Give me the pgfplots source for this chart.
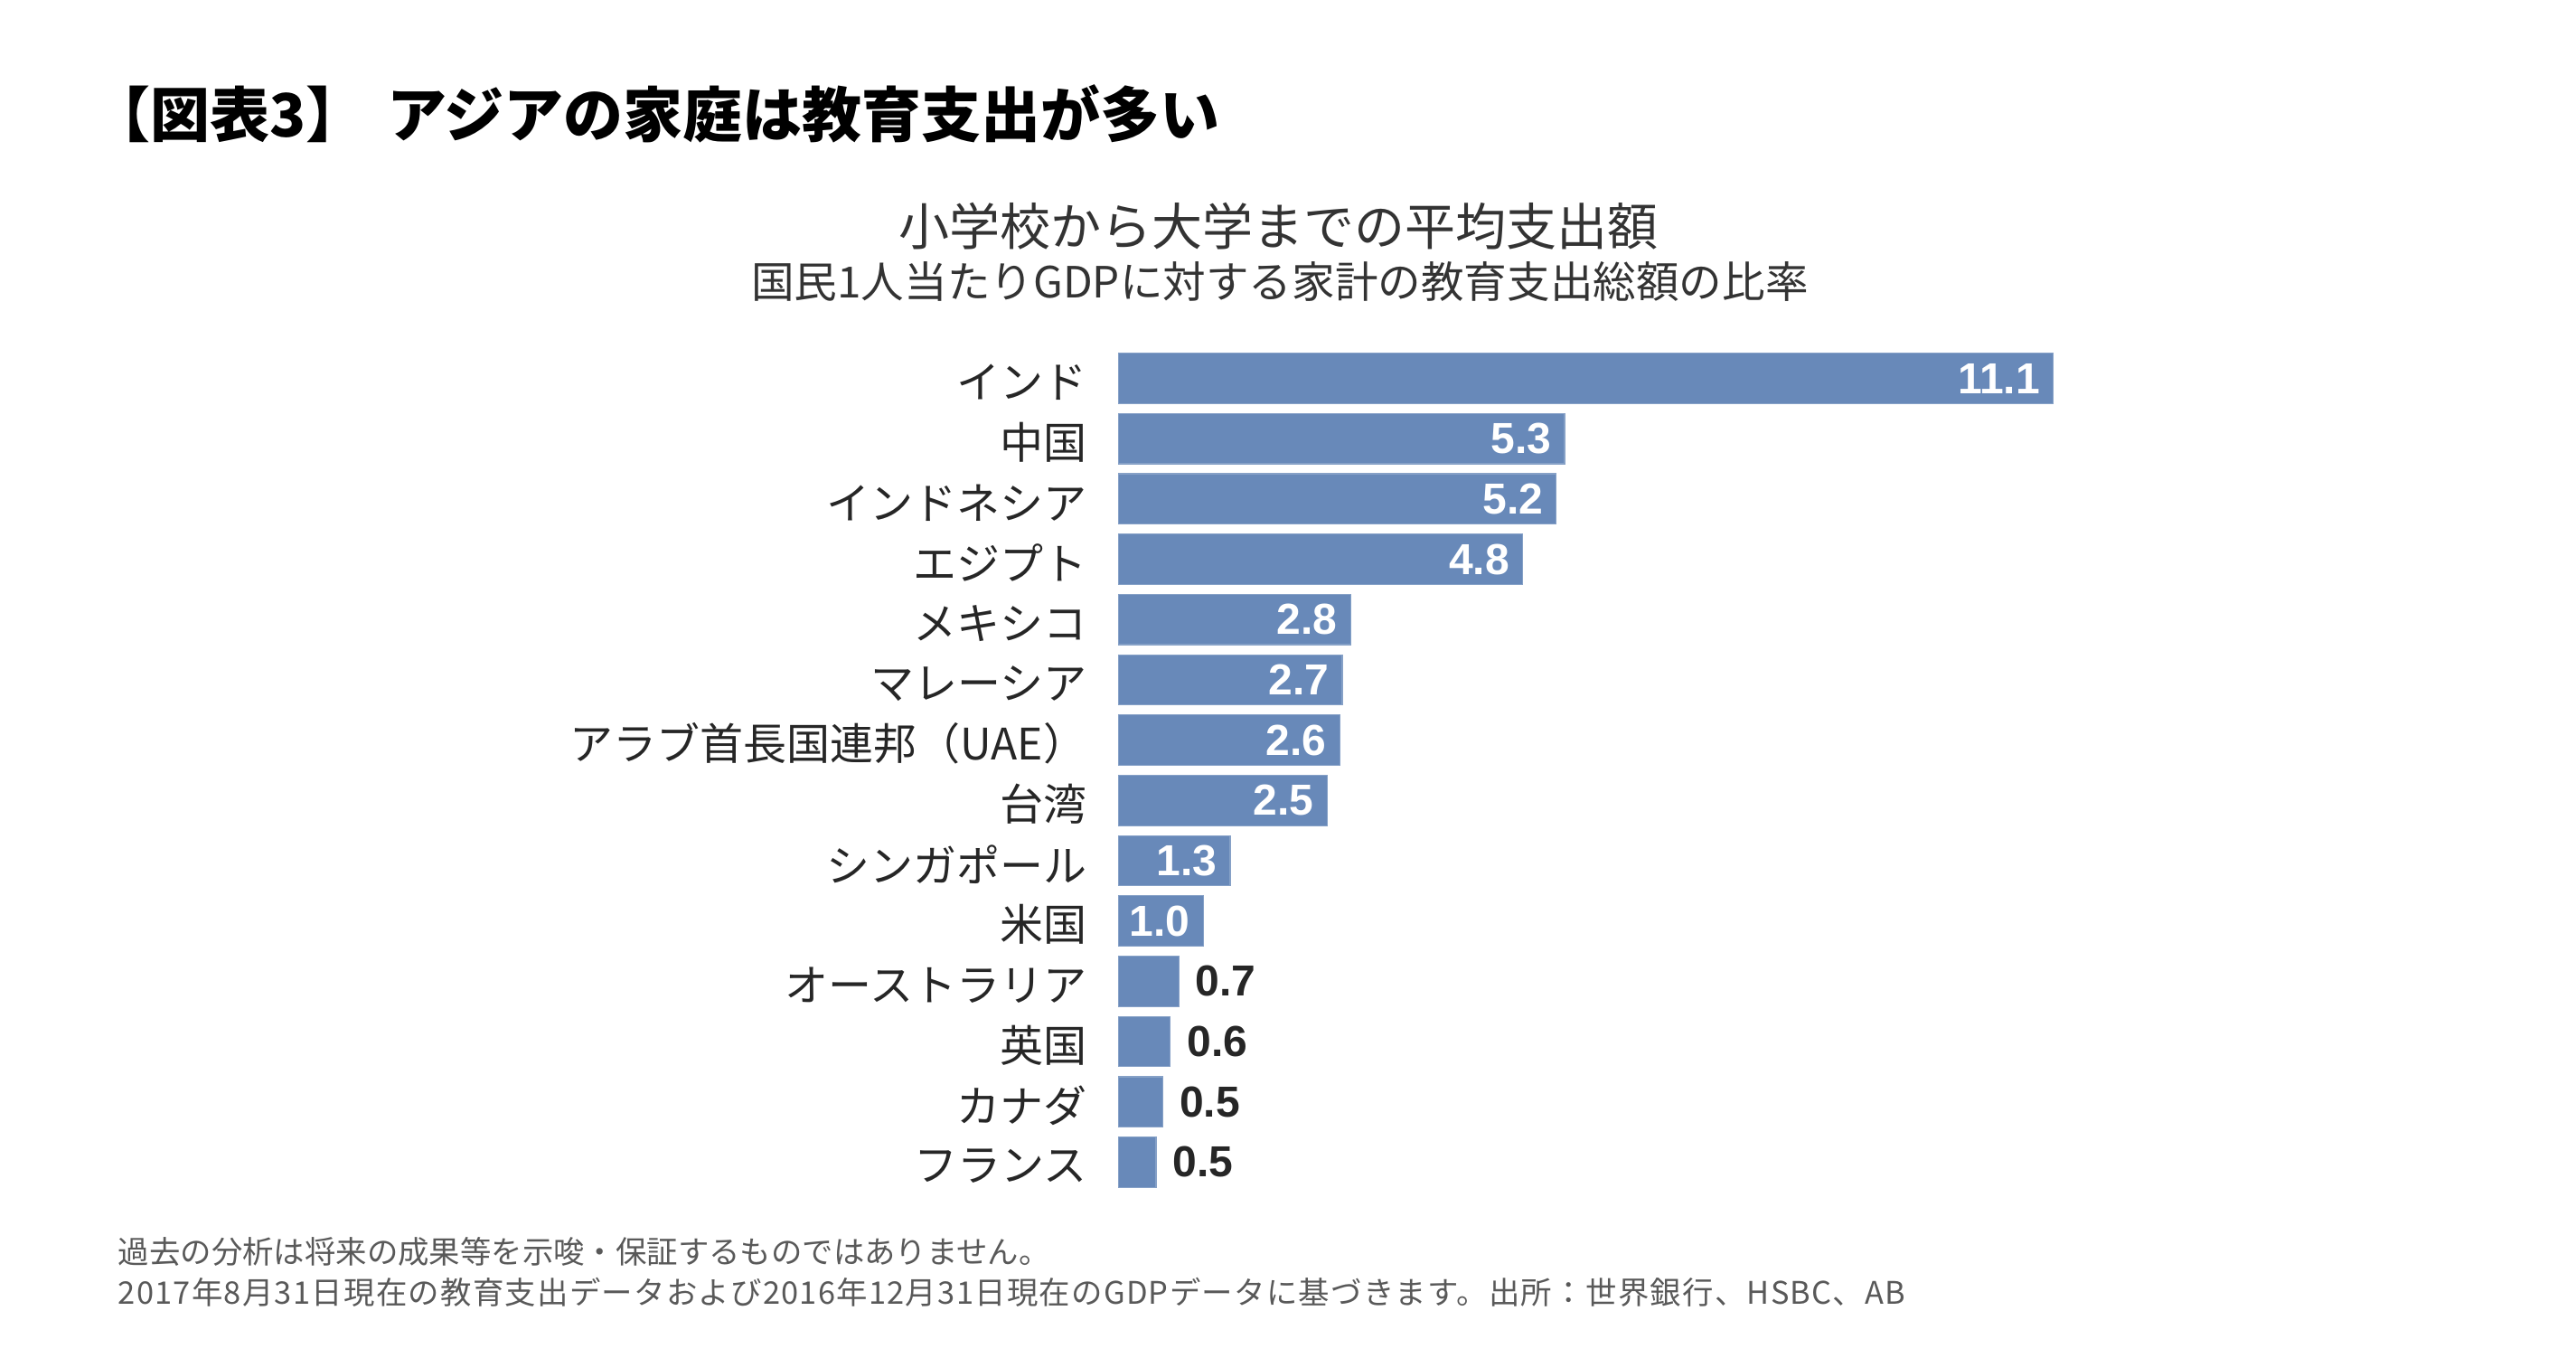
\documentclass[border=0pt]{standalone}
\usepackage{pgfplots}
\pgfplotsset{compat=1.18}
\usepackage{pgfplotstable}
\usepackage{fontspec}
\setmainfont{Liberation Sans}
\newfontfamily\jp{Noto Sans CJK JP}
\definecolor{barblue}{HTML}{6889B9}
\definecolor{lbl}{HTML}{262626}
\definecolor{sub}{HTML}{333333}
\definecolor{foot}{HTML}{595959}

\pgfplotstableread{
idx val lab
0 11.1 11.1
1 5.3 5.3
2 5.2 5.2
3 4.8 4.8
4 2.76 2.8
5 2.66 2.7
6 2.63 2.6
7 2.48 2.5
8 1.33 1.3
9 1.01 1.0
}\inside
\pgfplotstableread{
idx val lab
10 0.72 0.7
11 0.62 0.6
12 0.53 0.5
13 0.45 0.5
}\outside

\begin{document}
\begin{tikzpicture}
\useasboundingbox (0,0) rectangle (712.5pt,-375.25pt);
\node[anchor=west, inner sep=0pt, font={\jp\bfseries\fontsize{16.5pt}{20pt}\selectfont}] at (24.8pt,-31.5pt) {【図表3】\kern6pt アジアの家庭は教育支出が多い};
\node[anchor=center, inner sep=0pt, text=sub, font={\jp\fontsize{14pt}{17pt}\selectfont}] at (353.5pt,-62.5pt) {小学校から大学までの平均支出額};
\node[anchor=center, inner sep=0pt, text=sub, font={\jp\fontsize{11.9pt}{14pt}\selectfont}] at (354pt,-77.75pt) {国民1人当たりGDPに対する家計の教育支出総額の比率};
\node[anchor=west, inner sep=0pt, text=foot, font={\jp\fontsize{8.6pt}{10pt}\selectfont}] at (32.5pt,-346pt) {過去の分析は将来の成果等を示唆・保証するものではありません。};
\node[anchor=west, inner sep=0pt, text=foot, font={\jp\fontsize{8.6pt}{10pt}\selectfont\addfontfeature{LetterSpace=3.7}}] at (32.5pt,-357.25pt) {2017年8月31日現在の教育支出データおよび2016年12月31日現在のGDPデータに基づきます。出所：世界銀行、HSBC、AB};
\begin{axis}[
  at={(309.25pt,-96.29pt)}, anchor=north west,
  scale only axis, width=279.6pt, height=233.4pt,
  xmin=0, xmax=12, ymin=-0.5, ymax=13.5, y dir=reverse,
  xbar, bar width=0.834, bar shift=0pt,
  axis lines*=left, axis line style={draw=none},
  xtick=\empty, major tick length=0pt,
  ytick={0,...,13},
  yticklabels={インド,中国,インドネシア,エジプト,メキシコ,マレーシア,アラブ首長国連邦（UAE）,台湾,シンガポール,米国,オーストラリア,英国,カナダ,フランス},
  yticklabel style={font={\jp\fontsize{12pt}{14pt}\selectfont}, text=lbl, anchor=east, inner sep=0pt, xshift=-8.5pt, yshift=-1pt},
  point meta=explicit symbolic,
  nodes near coords={\pgfplotspointmeta},
]
\addplot[fill=barblue, draw=barblue!80!white, line width=0.3pt,
  nodes near coords style={anchor=east, inner sep=0pt, xshift=-3.5pt, text=white, font={\bfseries\fontsize{12pt}{14pt}\selectfont}}]
  table[x=val, y=idx, meta=lab] {\inside};
\addplot[fill=barblue, draw=barblue!80!white, line width=0.3pt,
  nodes near coords style={anchor=west, inner sep=0pt, xshift=4.5pt, text=lbl, font={\bfseries\fontsize{12pt}{14pt}\selectfont}}]
  table[x=val, y=idx, meta=lab] {\outside};
\end{axis}
\end{tikzpicture}
\end{document}
